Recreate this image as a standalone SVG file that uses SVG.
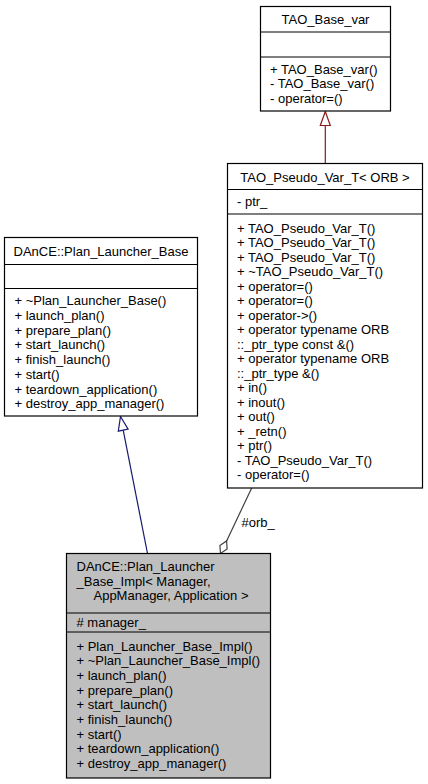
<svg xmlns="http://www.w3.org/2000/svg" width="428" height="784" viewBox="0 0 428 784">
<style>
text{font-family:"Liberation Sans",Arial,Helvetica,sans-serif;font-size:13px;fill:#000}
.c{text-anchor:middle}
.box{fill:#fff;stroke:#000;stroke-width:1.2}
.cur{fill:#bfbfbf;stroke:#000;stroke-width:1.2}
.sep{stroke:#000;stroke-width:1.2}
.priv{stroke:#8b1a1a;stroke-width:1.2;fill:none}
.pub{stroke:#191970;stroke-width:1.2;fill:none}
.use{stroke:#404040;stroke-width:1.2;fill:none}
</style>
<rect width="428" height="784" fill="#fff"/>
<g id="connectors">
  <line class="priv" x1="325.3" y1="163.5" x2="325.3" y2="125.5"/>
  <polygon class="priv" fill="#fff" points="325.3,111.5 320.3,125.5 330.3,125.5" style="fill:#fff"/>
  <line class="pub" x1="147.5" y1="553.5" x2="123.2" y2="430.2"/>
  <polygon class="pub" points="120.5,416.5 128.1,429.2 118.3,431.2" style="fill:#fff"/>
  <line class="use" x1="251.7" y1="488" x2="226.6" y2="540.9"/>
  <polygon class="use" points="220.5,553.5 219.9,545.5 226.6,540.9 227.1,548.9" style="fill:#fff"/>
  <text x="241.5" y="526.5">#orb_</text>
</g>
<g id="TAO_Base_var">
  <rect class="box" x="260.5" y="6.5" width="130" height="104.5"/>
  <line class="sep" x1="260.5" y1="32" x2="390.5" y2="32"/>
  <line class="sep" x1="260.5" y1="57" x2="390.5" y2="57"/>
  <text class="c" x="325.5" y="23.5">TAO_Base_var</text>
  <text x="270" y="73.5">+ TAO_Base_var()</text>
  <text x="270" y="88">- TAO_Base_var()</text>
  <text x="270" y="102.5">- operator=()</text>
</g>
<g id="TAO_Pseudo_Var_T">
  <rect class="box" x="227.5" y="163.5" width="195" height="324.5"/>
  <line class="sep" x1="227.5" y1="189.5" x2="422.5" y2="189.5"/>
  <line class="sep" x1="227.5" y1="214" x2="422.5" y2="214"/>
  <text class="c" x="325" y="181.5">TAO_Pseudo_Var_T&lt; ORB &gt;</text>
  <text x="237" y="206">- ptr_</text>
  <text x="237" y="232.5">+ TAO_Pseudo_Var_T()</text>
  <text x="237" y="247">+ TAO_Pseudo_Var_T()</text>
  <text x="237" y="261.5">+ TAO_Pseudo_Var_T()</text>
  <text x="237" y="276">+ ~TAO_Pseudo_Var_T()</text>
  <text x="237" y="290.5">+ operator=()</text>
  <text x="237" y="305">+ operator=()</text>
  <text x="237" y="319.5">+ operator-&gt;()</text>
  <text x="237" y="334">+ operator typename ORB</text>
  <text x="237" y="348.5">::_ptr_type const &amp;()</text>
  <text x="237" y="363">+ operator typename ORB</text>
  <text x="237" y="377.5">::_ptr_type &amp;()</text>
  <text x="237" y="392">+ in()</text>
  <text x="237" y="406.5">+ inout()</text>
  <text x="237" y="421">+ out()</text>
  <text x="237" y="435.5">+ _retn()</text>
  <text x="237" y="450">+ ptr()</text>
  <text x="237" y="464.5">- TAO_Pseudo_Var_T()</text>
  <text x="237" y="479">- operator=()</text>
</g>
<g id="Plan_Launcher_Base">
  <rect class="box" x="4.5" y="237.5" width="193" height="178.5"/>
  <line class="sep" x1="4.5" y1="264.5" x2="197.5" y2="264.5"/>
  <line class="sep" x1="4.5" y1="288.5" x2="197.5" y2="288.5"/>
  <text class="c" x="101" y="255.5">DAnCE::Plan_Launcher_Base</text>
  <text x="14.5" y="305.3">+ ~Plan_Launcher_Base()</text>
  <text x="14.5" y="320">+ launch_plan()</text>
  <text x="14.5" y="334.7">+ prepare_plan()</text>
  <text x="14.5" y="349.4">+ start_launch()</text>
  <text x="14.5" y="364.1">+ finish_launch()</text>
  <text x="14.5" y="378.8">+ start()</text>
  <text x="14.5" y="393.5">+ teardown_application()</text>
  <text x="14.5" y="408.2">+ destroy_app_manager()</text>
</g>
<g id="Plan_Launcher_Base_Impl">
  <rect class="cur" x="66.5" y="553.5" width="204" height="224.5"/>
  <line class="sep" x1="66.5" y1="613" x2="270.5" y2="613"/>
  <line class="sep" x1="66.5" y1="632" x2="270.5" y2="632"/>
  <text x="76.5" y="571">DAnCE::Plan_Launcher</text>
  <text x="76.5" y="585.5">_Base_Impl&lt; Manager,</text>
  <text class="c" x="171" y="600">AppManager, Application &gt;</text>
  <text x="76.5" y="627">#  manager_</text>
  <text x="76.5" y="650.5">+ Plan_Launcher_Base_Impl()</text>
  <text x="76.5" y="665.2">+ ~Plan_Launcher_Base_Impl()</text>
  <text x="76.5" y="679.9">+ launch_plan()</text>
  <text x="76.5" y="694.6">+ prepare_plan()</text>
  <text x="76.5" y="709.3">+ start_launch()</text>
  <text x="76.5" y="724">+ finish_launch()</text>
  <text x="76.5" y="738.7">+ start()</text>
  <text x="76.5" y="753.4">+ teardown_application()</text>
  <text x="76.5" y="768.1">+ destroy_app_manager()</text>
</g>
</svg>
